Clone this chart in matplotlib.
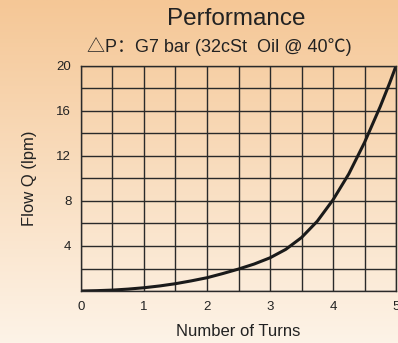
import numpy as np
import matplotlib
matplotlib.use('Agg')
import matplotlib.pyplot as plt
from matplotlib.colors import LinearSegmentedColormap

# данные кривой
turns = [0, 0.25, 0.5, 0.75, 1, 1.25, 1.5, 1.75, 2, 2.25, 2.5, 2.75, 3, 3.25, 3.5,
         3.75, 4, 4.25, 4.5, 4.75, 4.9, 5]
flow = [0, 0.03, 0.08, 0.17, 0.29, 0.45, 0.65, 0.9, 1.18, 1.55, 1.95, 2.4, 2.95, 3.7, 4.75,
        6.2, 8.1, 10.4, 13.2, 16.4, 18.5, 20]

x_labels = ['0', '', '1', '', '2', '', '3', '', '4', '', '5']
y_labels = ['', '', '4', '', '8', '', '12', '', '16', '', '20']

plt.rcParams['font.family'] = ['Liberation Sans', 'Noto Sans CJK SC', 'DejaVu Sans']

fig = plt.figure(figsize=(3.98, 3.43), dpi=100)

# фон с градиентом
bg = fig.add_axes([0, 0, 1, 1], zorder=-1)
cmap = LinearSegmentedColormap.from_list('bg', ['#fdf3e7', '#f5c796'])
grad = np.linspace(0, 1, 256).reshape(-1, 1)
bg.imshow(grad, cmap=cmap, aspect='auto', origin='lower', extent=[0, 1, 0, 1])
bg.axis('off')

ax = fig.add_axes([0.2035, 0.1516, 0.7915, 0.656])
ax.patch.set_alpha(0)
ax.plot(turns, flow, color='#1a1a1a', lw=2.2, solid_capstyle='round', solid_joinstyle='round')

ax.set_xlim(0, 5)
ax.set_ylim(0, 20)
ax.set_xticks(np.arange(0, 5.01, 0.5))
ax.set_yticks(np.arange(0, 20.01, 2))
ax.set_xticklabels(x_labels)
ax.set_yticklabels(y_labels)
ax.grid(True, color='#2a2a2a', lw=1.0)
ax.tick_params(length=0, labelsize=9.5, colors='#222222', pad=7)
for s in ax.spines.values():
    s.set_color('#2a2a2a')
    s.set_linewidth(1.0)

ax.set_xlabel('Number of Turns', fontsize=12, color='#222222', labelpad=8)
ax.set_ylabel('Flow Q (lpm)', fontsize=12, color='#222222', labelpad=14)

fig.text(0.593, 0.945, 'Performance', ha='center', va='center', fontsize=17.5, color='#222222')
fig.text(0.552, 0.865, '△P：G7 bar (32cSt  Oil @ 40℃)', ha='center', va='center',
         fontsize=13, color='#222222')

fig.savefig('out.png', dpi=100)
